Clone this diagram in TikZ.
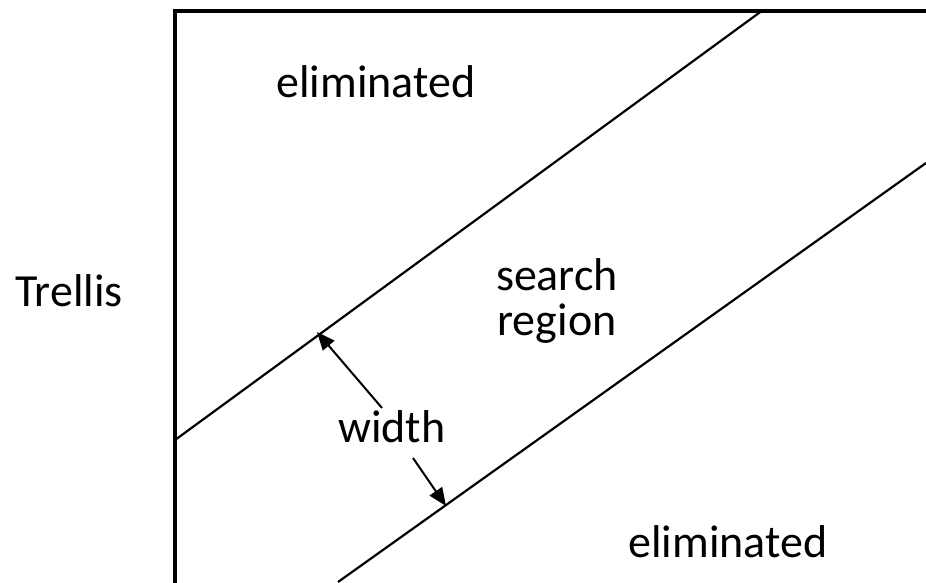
\documentclass[tikz,border=0pt]{standalone}
\usepackage{fontspec}
\setmainfont{Carlito}
\usepackage{tikz}
\usetikzlibrary{arrows.meta}

\begin{document}
\begin{tikzpicture}[x=1pt, y=-1pt, outer sep = 0pt]

\tikzstyle{label}=[inner sep=0pt, font=\fontsize{46}{45}\selectfont]
\tikzstyle{band}=[line width=2.2pt]
\tikzstyle{arr}=[line width=2pt, -{Triangle[length=18pt,width=15pt]}]
\clip (0,0) rectangle (926,582);
\draw[line width=4pt] (174.5,10.5) rectangle (960,620);
\coordinate (u1) at (175,440); \coordinate (u2) at (763,10);
\coordinate (l1) at (338,582); \coordinate (l2) at (926,163);
\draw[band] (u1) -- (u2); \draw[band] (l1) -- (l2);
\node[label, anchor=base] (trellis) at (69,306) {Trellis};
\node[label, anchor=base] (elimtop) at (376,97) {eliminated};
\node[label, align=center] (search) at (557,301) {search\\region};
\node[label, anchor=base] (width) at (392,442) {width};
\node[label, anchor=base] (elimbot) at (728,557) {eliminated};
\coordinate (tail1) at (382,408); \coordinate (tip1) at (317,332);
\coordinate (tail2) at (413,458); \coordinate (tip2) at (446,506);
\draw[arr] (tail1) -- (tip1); \draw[arr] (tail2) -- (tip2);

\end{tikzpicture}
\end{document}
